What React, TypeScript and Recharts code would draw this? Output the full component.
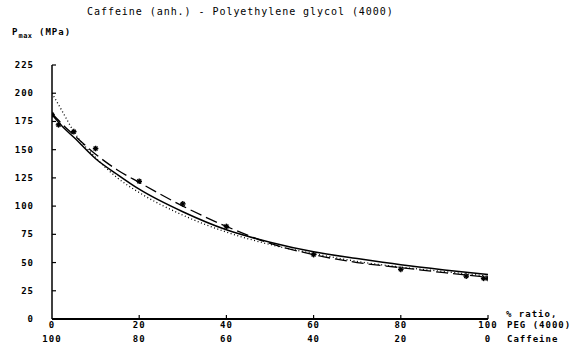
import { ComposedChart, Line, Scatter, XAxis, YAxis } from "recharts";

// % PEG (4000) on the x axis, Pmax (MPa) on the y axis
const curveX = [0, 2.5, 5, 10, 15, 20, 30, 40, 50, 60, 70, 80, 90, 100];
const solidY = [181, 170, 161, 142, 128, 115, 95, 79, 68, 59.5, 53.5, 48, 43.5, 39.5];
const dashedY = [182, 172, 163, 146, 132, 121, 100, 82, 67, 57, 50, 45.5, 41, 37];
const dottedY = [200, 183, 166, 143, 125, 112, 92, 77, 66, 58, 51, 46, 42, 38];

const markerX = [0, 1.5, 5, 10, 20, 30, 40, 60, 80, 95, 99, 100];
const markerY = [181, 172, 166, 151, 122, 102, 82, 57, 44, 38, 36, 36];

const xTicks = [0, 20, 40, 60, 80, 100];
const yTicks = [0, 25, 50, 75, 100, 125, 150, 175, 200, 225];

const FONT = '"DejaVu Sans Mono", monospace';

const toPoints = (xs: number[], ys: number[]) => xs.map((x, i) => ({ x, y: ys[i] }));

const solidData = toPoints(curveX, solidY);
const dashedData = toPoints(curveX, dashedY);
const dottedData = toPoints(curveX, dottedY);
const markerData = toPoints(markerX, markerY);

const PLOT_LEFT = 52;
const PLOT_BOTTOM = 319;

const XTick = ({ x, payload }: any) => {
  const v = payload.value;
  return (
    <g>
      {v !== 0 && <line x1={x} x2={x} y1={PLOT_BOTTOM} y2={PLOT_BOTTOM - 4} stroke="#000" strokeWidth={1.2} />}
      <text x={x} y={325} textAnchor="middle" dominantBaseline="central" fontFamily={FONT} fontSize={9} fontWeight="bold" letterSpacing={1}>
        {v}
      </text>
      <text x={x} y={339} textAnchor="middle" dominantBaseline="central" fontFamily={FONT} fontSize={9} fontWeight="bold" letterSpacing={1}>
        {100 - v}
      </text>
    </g>
  );
};

const YTick = ({ y, payload }: any) => (
  <g>
    {payload.value !== 0 && <line x1={PLOT_LEFT} x2={PLOT_LEFT + 4} y1={y} y2={y} stroke="#000" strokeWidth={1.2} />}
    <text x={34} y={y} textAnchor="end" dominantBaseline="central" fontFamily={FONT} fontSize={9} fontWeight="bold" letterSpacing={1}>
      {payload.value}
    </text>
  </g>
);

const Star = ({ cx, cy }: any) => {
  const r = 2.8;
  return (
    <g stroke="#000" strokeWidth={1.4}>
      <line x1={cx - r} x2={cx + r} y1={cy} y2={cy} />
      <line x1={cx} x2={cx} y1={cy - r} y2={cy + r} />
      <line x1={cx - r * 0.7} x2={cx + r * 0.7} y1={cy - r * 0.7} y2={cy + r * 0.7} />
      <line x1={cx - r * 0.7} x2={cx + r * 0.7} y1={cy + r * 0.7} y2={cy - r * 0.7} />
    </g>
  );
};

const textStyle: any = {
  position: "absolute",
  fontFamily: FONT,
  fontSize: 9,
  fontWeight: "bold",
  letterSpacing: 1,
  whiteSpace: "nowrap",
  lineHeight: "10px",
};

export default function App() {
  return (
    <div style={{ position: "absolute", left: 0, top: 0, width: 580, height: 349, background: "#fff" }}>
      <ComposedChart width={580} height={349} margin={{ top: 65, right: 92, left: 0, bottom: 0 }}>
        <XAxis
          dataKey="x"
          type="number"
          domain={[0, 100]}
          ticks={xTicks}
          allowDataOverflow
          tickLine={false}
          axisLine={{ stroke: "#000", strokeWidth: 1.8 }}
          tick={<XTick />}
          height={30}
        />
        <YAxis
          dataKey="y"
          type="number"
          domain={[0, 225]}
          ticks={yTicks}
          allowDataOverflow
          tickLine={false}
          axisLine={{ stroke: "#000", strokeWidth: 1.5 }}
          tick={<YTick />}
          width={52}
        />
        <Line data={dottedData} dataKey="y" type="monotone" stroke="#000" strokeWidth={1.3} strokeDasharray="1 2.5" dot={false} isAnimationActive={false} />
        <Line data={dashedData} dataKey="y" type="monotone" stroke="#000" strokeWidth={1.3} strokeDasharray="12 5" dot={false} isAnimationActive={false} />
        <Line data={solidData} dataKey="y" type="monotone" stroke="#000" strokeWidth={1.5} dot={false} isAnimationActive={false} />
        <Scatter data={markerData} dataKey="y" shape={<Star />} isAnimationActive={false} />
      </ComposedChart>

      <div style={{ ...textStyle, left: 87, top: 7, fontSize: 10, letterSpacing: 0.95, fontWeight: "normal" }}>
        Caffeine (anh.) - Polyethylene glycol (4000)
      </div>
      <div style={{ ...textStyle, left: 12, top: 27 }}>
        P<span style={{ fontSize: 7, position: "relative", top: 3, letterSpacing: 0.5 }}>max</span> (MPa)
      </div>
      <div style={{ ...textStyle, left: 506, top: 309 }}>% ratio,</div>
      <div style={{ ...textStyle, left: 507, top: 320 }}>PEG (4000)</div>
      <div style={{ ...textStyle, left: 507, top: 334 }}>Caffeine</div>
    </div>
  );
}
